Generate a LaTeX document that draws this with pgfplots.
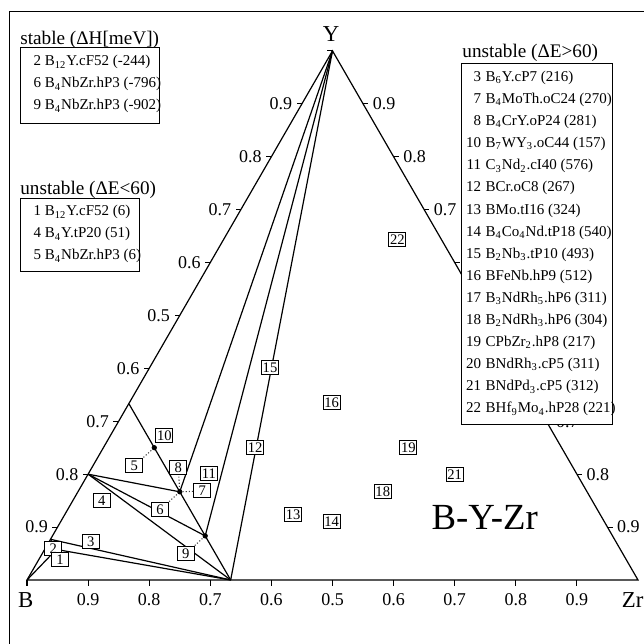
\documentclass[border=0pt]{standalone}
\usepackage{fontspec}
\setmainfont{Liberation Serif}
\usepackage{pgfplots}
\pgfplotsset{compat=1.18}
\newcommand{\fs}[1]{\fontsize{#1}{#1}\selectfont}
\newcommand{\sbs}[1]{\textsubscript{#1}}
\pgfplotsset{
  table/tern/.style={x expr={\thisrow{Zr}+0.5*\thisrow{Y}}, y expr={0.866025*\thisrow{Y}}, row sep=\\},
  hull/.style={black, line width=0.6pt, no marks},
  dot/.style={black!75, densely dotted, line width=0.55pt, no marks},
}
\tikzset{tk/.style={black, line width=0.55pt}}
\begin{document}
\begin{tikzpicture}
\begin{axis}[at={(0,0)}, anchor=south west, scale only axis, width=322pt, height=322pt,
  xmin=-0.044190, xmax=1.009820, ymin=-0.104746, ymax=0.949264,
  axis lines=none, clip=true]
% triangle
\addplot[hull] table[tern]{Zr Y\\ 0 0\\ 1 0\\ 0 1\\ 0 0\\};
% hull tie lines
\addplot[hull] table[tern]{Zr Y\\ 0 0.076923\\ 0.333333 0\\};
\addplot[hull] table[tern]{Zr Y\\ 0 0\\ 0.019231 0.057692\\ 0.333333 0\\};
\addplot[hull] table[tern]{Zr Y\\ 0.019231 0.057692\\ 0 0.076923\\};
\addplot[hull] table[tern]{Zr Y\\ 0 0.2\\ 0.333333 0\\};
\addplot[hull] table[tern]{Zr Y\\ 0 0.2\\ 0.166667 0.166667\\};
\addplot[hull] table[tern]{Zr Y\\ 0 0.2\\ 0.25 0.083333\\};
\addplot[hull] table[tern]{Zr Y\\ 0 0.333333\\ 0.333333 0\\};
\addplot[hull] table[tern]{Zr Y\\ 0 1\\ 0.166667 0.166667\\};
\addplot[hull] table[tern]{Zr Y\\ 0 1\\ 0.25 0.083333\\};
\addplot[hull] table[tern]{Zr Y\\ 0 1\\ 0.333333 0\\};
% dotted leaders
\addplot[dot] table[tern]{Zr Y\\ 0.0676 0.2160\\ 0.083333 0.25\\};
\addplot[dot] table[tern]{Zr Y\\ 0.1516 0.1323\\ 0.166667 0.166667\\};
\addplot[dot] table[tern]{Zr Y\\ 0.2028 0.1682\\ 0.166667 0.166667\\};
\addplot[dot] table[tern]{Zr Y\\ 0.1411 0.2130\\ 0.166667 0.166667\\};
\addplot[dot] table[tern]{Zr Y\\ 0.2351 0.0492\\ 0.25 0.083333\\};
% dots
\addplot[only marks, mark=*, mark size=1.1pt, black] table[tern]{Zr Y\\ 0.083333 0.25\\ 0.166667 0.166667\\ 0.25 0.083333\\};
% labelled boxes
\addplot[only marks, mark=none, nodes near coords, point meta=explicit symbolic,
  nodes near coords style={anchor=center, draw=black, fill=white, line width=0.5pt, inner sep=0pt,
  minimum width=8.4pt, minimum height=7pt, font={\fs{7.3}}}]
  table[tern, meta=L]{L Zr Y\\
2 0.0130 0.0599\\
1 0.0351 0.0378\\
3 0.0681 0.0724\\
4 0.0477 0.1493\\
5 0.0676 0.2160\\
6 0.1516 0.1323\\
7 0.2028 0.1682\\
8 0.1411 0.2130\\
9 0.2351 0.0492\\
10 0.0884 0.2727\\
11 0.1971 0.2016\\
12 0.2483 0.2499\\
13 0.3737 0.1241\\
14 0.4436 0.1102\\
15 0.1971 0.4013\\
16 0.3308 0.3358\\
18 0.4988 0.1669\\
19 0.4991 0.2500\\
20 0.6 0.2\\
21 0.6 0.2\\
22 0.2842 0.6439\\
};
% ticks
\pgfplotsinvokeforeach{0.9,0.8,0.7,0.6,0.5}{
 \draw[tk] (axis cs:{(1-#1)/2},{0.866025*(1-#1)}) -- ++(-2.6pt,0pt) node[anchor=east, inner sep=0pt, xshift=-2pt, font={\fs{9}}] {#1};
 \draw[tk] (axis cs:{1-#1},0) -- ++(0pt,-3pt) node[anchor=north, inner sep=0pt, yshift=-3.5pt, font={\fs{9}}] {#1};
}
\pgfplotsinvokeforeach{0.6,0.7,0.8,0.9}{
 \draw[tk] (axis cs:{#1/2},{0.866025*#1}) -- ++(-2.6pt,0pt) node[anchor=east, inner sep=0pt, xshift=-2pt, font={\fs{9}}] {#1};
 \draw[tk] (axis cs:#1,0) -- ++(0pt,-3pt) node[anchor=north, inner sep=0pt, yshift=-3.5pt, font={\fs{9}}] {#1};
}
% right edge ticks (labels 0.6, 0.5, 0.6 lie under the legend)
\pgfplotsinvokeforeach{0.9,0.8,0.7}{
 \draw[tk] (axis cs:{(1+#1)/2},{0.866025*(1-#1)}) -- ++(2.6pt,0pt) node[anchor=west, inner sep=0pt, xshift=2pt, font={\fs{9}}] {#1};
 \draw[tk] (axis cs:{1-#1/2},{0.866025*#1}) -- ++(2.6pt,0pt) node[anchor=west, inner sep=0pt, xshift=2pt, font={\fs{9}}] {#1};
}
\pgfplotsinvokeforeach{0.4,0.5,0.6}{
 \draw[tk] (axis cs:{1-#1/2},{0.866025*#1}) -- ++(2.6pt,0pt);
}
\draw[tk] (axis cs:0.5,0.866025) -- ++(-2.6pt,0pt);
\draw[tk] (axis cs:0,0) -- ++(0pt,-3pt);
\end{axis}
% overlay in pixel units of the 644x644 reference
\begin{scope}[x=0.5pt, y=-0.5pt, shift={(0pt,322pt)}]
\draw[line width=0.65pt] (9.3,700) -- (9.3,11.7) -- (700,11.7);
% corner labels
\node[font={\fs{11.4}}, inner sep=0pt] at (331,34) {Y};
\node[font={\fs{11.4}}, inner sep=0pt] at (25.7,600) {B};
\node[font={\fs{11.4}}, inner sep=0pt, anchor=west] at (621.5,600) {Zr};
\node[font={\fs{18.4}}, inner sep=0pt, anchor=base] at (484.7,529.3) {B-Y-Zr};
% legend 1
\node[anchor=base west, inner sep=0pt, font={\fs{9.6}}] at (20,44.5) {stable (ΔH[meV])};
\draw[line width=0.5pt, fill=white] (20,47.7) rectangle (159.3,123.3);
\node[anchor=base west, inner sep=0pt, font={\fs{7.5}}] at (33.3,66) {2 B\sbs{12}Y.cF52 (-244)};
\node[anchor=base west, inner sep=0pt, font={\fs{7.5}}] at (33.3,88) {6 B\sbs{4}NbZr.hP3 (-796)};
\node[anchor=base west, inner sep=0pt, font={\fs{7.5}}] at (33.3,110) {9 B\sbs{4}NbZr.hP3 (-902)};
% legend 2
\node[anchor=base west, inner sep=0pt, font={\fs{9.6}}] at (20,195) {unstable (ΔE<60)};
\draw[line width=0.5pt, fill=white] (20,199) rectangle (139.3,271.7);
\node[anchor=base west, inner sep=0pt, font={\fs{7.5}}] at (33.3,216) {1 B\sbs{12}Y.cF52 (6)};
\node[anchor=base west, inner sep=0pt, font={\fs{7.5}}] at (33.3,238) {4 B\sbs{4}Y.tP20 (51)};
\node[anchor=base west, inner sep=0pt, font={\fs{7.5}}] at (33.3,260) {5 B\sbs{4}NbZr.hP3 (6)};
% legend 3
\node[anchor=base west, inner sep=0pt, font={\fs{9.6}}] at (462,58) {unstable (ΔE>60)};
\draw[line width=0.5pt, fill=white] (461.7,64) rectangle (612.7,425);
\foreach \n/\t [count=\i from 0] in {
 3/{B\sbs{6}Y.cP7 (216)},
 7/{B\sbs{4}MoTh.oC24 (270)},
 8/{B\sbs{4}CrY.oP24 (281)},
 10/{B\sbs{7}WY\sbs{3}.oC44 (157)},
 11/{C\sbs{3}Nd\sbs{2}.cI40 (576)},
 12/{BCr.oC8 (267)},
 13/{BMo.tI16 (324)},
 14/{B\sbs{4}Co\sbs{4}Nd.tP18 (540)},
 15/{B\sbs{2}Nb\sbs{3}.tP10 (493)},
 16/{BFeNb.hP9 (512)},
 17/{B\sbs{3}NdRh\sbs{5}.hP6 (311)},
 18/{B\sbs{2}NdRh\sbs{3}.hP6 (304)},
 19/{CPbZr\sbs{2}.hP8 (217)},
 20/{BNdRh\sbs{3}.cP5 (311)},
 21/{BNdPd\sbs{3}.cP5 (312)},
 22/{BHf\sbs{9}Mo\sbs{4}.hP28 (221)}}{
 \node[anchor=base east, inner sep=0pt, font={\fs{7.5}}] at (481.5,{81.5+22.1*\i}) {\n};
 \node[anchor=base west, inner sep=0pt, font={\fs{7.5}}] at (485.3,{81.5+22.1*\i}) {\t};
}
\end{scope}
\pgfresetboundingbox
\useasboundingbox (0,0) rectangle (322pt,322pt);
\end{tikzpicture}
\end{document}
